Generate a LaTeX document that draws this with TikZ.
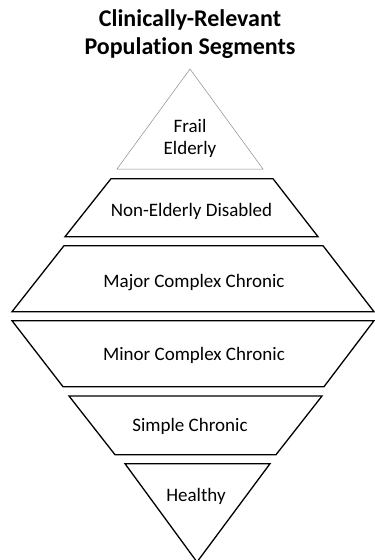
\documentclass[tikz,border=0pt]{standalone}
\usepackage{fontspec}
\setmainfont[Ligatures={NoCommon}]{Carlito}
\begin{document}
\begin{tikzpicture}[x=1pt,y=-1pt,
  seg/.style={draw=black,line width=1.3pt,line join=miter},
  thinseg/.style={draw=black!45,line width=0.5pt},
  lbl/.style={font=\fontsize{19}{22}\selectfont,align=center,inner sep=0pt},
  ttl/.style={font=\fontsize{24}{28}\selectfont\bfseries,align=center,inner sep=0pt}]
\useasboundingbox (0,0) rectangle (375,560);
\node[ttl] (title) at (190,34) {Clinically-Relevant\\Population Segments};
\draw[thinseg] (190,69) -- (263,169) -- (117,169) -- cycle;
\node[lbl] (frail) at (190,138) {Frail\\Elderly};
\draw[seg] (111,178.7) -- (273,178.7) -- (318,236.7) -- (65,236.7) -- cycle;
\node[lbl] (ned) at (191.5,211.7) {Non-Elderly Disabled};
\draw[seg] (64,245.7) -- (323,245.7) -- (374,311.7) -- (12,311.7) -- cycle;
\node[lbl] (major) at (194,283) {Major Complex Chronic};
\draw[seg] (12,320.7) -- (374,320.7) -- (324,386.7) -- (63,386.7) -- cycle;
\node[lbl] (minor) at (194,355.7) {Minor Complex Chronic};
\draw[seg] (69,396) -- (322,396) -- (276,454.7) -- (115,454.7) -- cycle;
\node[lbl] (simple) at (190,426) {Simple Chronic};
\draw[seg] (125,463.7) -- (270,463.7) -- (197,562) -- cycle;
\node[lbl] (healthy) at (196,496.7) {Healthy};
\end{tikzpicture}
\end{document}
